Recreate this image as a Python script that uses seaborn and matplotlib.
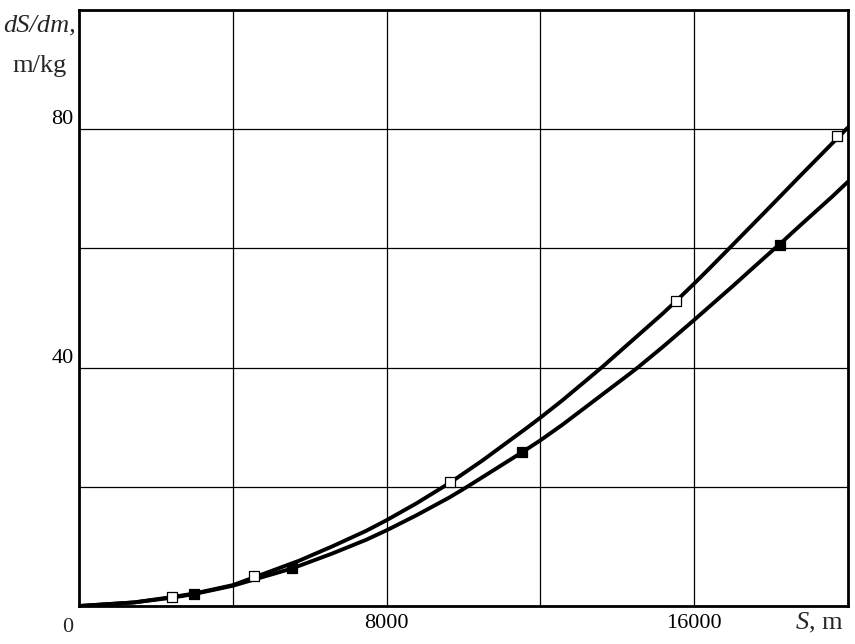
import numpy as np
import pandas as pd
import matplotlib
matplotlib.use("Agg")
import matplotlib.pyplot as plt
import seaborn as sns

# ---- data ----
# curve traces (S in m, dS/dm in m/kg)
upper_S = [0, 1430, 2420, 3000, 4000, 4553, 5725, 6585, 7465, 8000, 8770,
           9653, 10490, 11630, 12000, 12570, 13590, 14310, 15170, 15535,
           16000, 16390, 16910, 17870, 18730, 19723, 20000]
upper_v = [0, 0.6, 1.5, 2.1, 3.5, 4.8, 7.6, 10.0, 12.6, 14.4, 17.2,
           20.7, 24.4, 29.8, 31.6, 34.5, 40.0, 44.1, 49.0, 51.2,
           54.1, 56.6, 60.0, 66.3, 72.0, 78.5, 80.3]
lower_S = [0, 1430, 2420, 2990, 4000, 5543, 6585, 7465, 8000, 8770, 9630,
           10070, 10490, 11525, 12000, 12570, 13450, 14310, 14530, 15170,
           16000, 16990, 17870, 18240, 18730, 19590, 20000]
lower_v = [0, 0.6, 1.4, 2.0, 3.4, 6.3, 8.8, 11.1, 12.7, 15.2, 18.2,
           19.9, 21.6, 25.8, 27.8, 30.4, 34.7, 38.9, 40.0, 43.4,
           48.0, 53.6, 58.7, 60.8, 63.7, 68.7, 71.2]
# marker points
open_S = [2420, 4553, 9653, 15534, 19723]
open_v = [1.5, 5.0, 20.8, 51.1, 78.9]
fill_S = [2990, 5543, 11527, 18240]
fill_v = [2.0, 6.4, 25.8, 60.6]

x_ticks = [0, 4000, 8000, 12000, 16000, 20000]
x_labels = ["", "", "8000", "", "16000", ""]
y_ticks = [0, 20, 40, 60, 80, 100]
y_labels = ["", "", "40", "", "80", ""]

sns.set_theme(style="white")
plt.rcParams["font.family"] = ["Liberation Serif", "DejaVu Serif"]
plt.rcParams["mathtext.fontset"] = "custom"
plt.rcParams["mathtext.rm"] = "Liberation Serif"
plt.rcParams["mathtext.it"] = "Liberation Serif:italic"

fig = plt.figure(figsize=(8.55, 6.44), dpi=100)
ax = fig.add_axes([79 / 855, 1 - 606 / 644, (848 - 79) / 855, (606 - 10) / 644])

up = pd.DataFrame({"S": upper_S, "v": upper_v})
lo = pd.DataFrame({"S": lower_S, "v": lower_v})
op = pd.DataFrame({"S": open_S, "v": open_v})
fi = pd.DataFrame({"S": fill_S, "v": fill_v})

sns.lineplot(data=up, x="S", y="v", ax=ax, color="black", lw=2.8, zorder=3)
sns.lineplot(data=lo, x="S", y="v", ax=ax, color="black", lw=2.8, zorder=3)
sns.scatterplot(data=op, x="S", y="v", ax=ax, marker="s", s=48,
                facecolor="white", edgecolor="black", linewidth=0.9, zorder=4)
sns.scatterplot(data=fi, x="S", y="v", ax=ax, marker="s", s=52,
                color="black", edgecolor="black", linewidth=0.9, zorder=4)

ax.set_xlim(0, 20000)
ax.set_ylim(0, 100)
ax.set_xticks(x_ticks)
ax.set_xticklabels(x_labels)
ax.set_yticks(y_ticks)
ax.set_yticklabels(y_labels)
for lab in ax.get_yticklabels():
    lab.set_verticalalignment("bottom")
ax.tick_params(axis="both", length=0, labelsize=16, colors="black")
ax.tick_params(axis="x", pad=6)
ax.tick_params(axis="y", pad=4)
ax.grid(True, color="black", lw=0.9)
ax.set_axisbelow(True)
for sp in ax.spines.values():
    sp.set_color("black")
    sp.set_linewidth(2.0)
ax.set_xlabel("")
ax.set_ylabel("")

# origin label and axis titles
ax.annotate("0", xy=(0, 0), xycoords="data", xytext=(-11, -21),
            textcoords="offset pixels", ha="center", va="center", fontsize=16)
fig.text(40 / 855, 1 - 25 / 644, "dS/dm,", ha="center", va="center",
         fontsize=19, fontstyle="italic")
fig.text(40 / 855, 1 - 66 / 644, "m/kg", ha="center", va="center", fontsize=19)
fig.text(844 / 855, 1 - 623 / 644, r"$S$, m", ha="right", va="center", fontsize=19)

fig.savefig("out.png", dpi=100, facecolor="white")
